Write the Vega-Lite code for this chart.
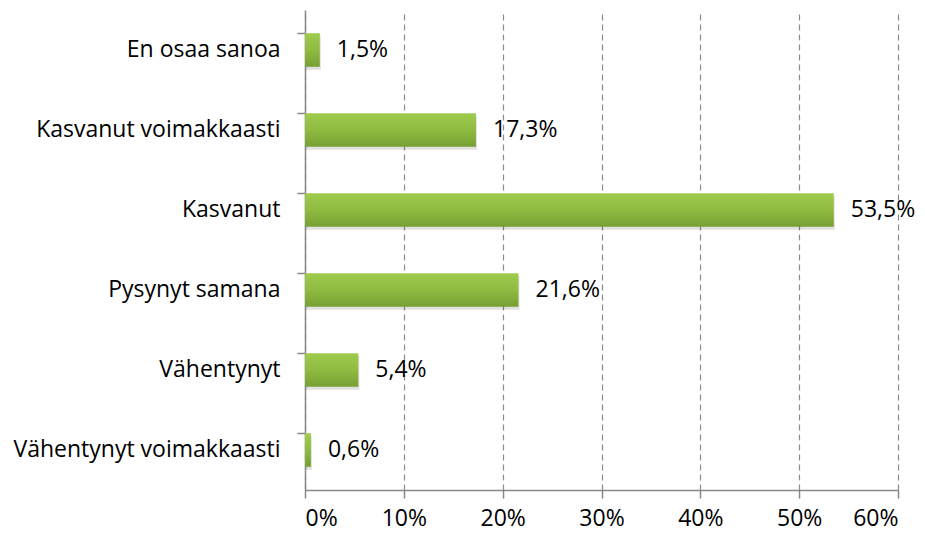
{
  "$schema": "https://vega.github.io/schema/vega-lite/v6.json",
  "width": 593,
  "height": 480,
  "autosize": {"type": "none"},
  "padding": {"left": 305, "top": 10, "right": 27, "bottom": 48},
  "background": "white",
  "config": {
    "locale": {"number": {"decimal": ",", "thousands": " ", "grouping": [3], "currency": ["", " €"]}},
    "view": {"stroke": null},
    "font": "Open Sans"
  },
  "data": {
    "values": [
      {"kategoria": "En osaa sanoa", "osuus": 0.015},
      {"kategoria": "Kasvanut voimakkaasti", "osuus": 0.173},
      {"kategoria": "Kasvanut", "osuus": 0.535},
      {"kategoria": "Pysynyt samana", "osuus": 0.216},
      {"kategoria": "Vähentynyt", "osuus": 0.054},
      {"kategoria": "Vähentynyt voimakkaasti", "osuus": 0.006}
    ]
  },
  "encoding": {
    "y": {
      "field": "kategoria",
      "type": "nominal",
      "sort": null,
      "scale": {"paddingInner": 0.58, "paddingOuter": 0.29},
      "axis": {
        "title": null,
        "bandPosition": 0,
        "domainColor": "#888888",
        "domainWidth": 1.5,
        "tickColor": "#888888",
        "tickWidth": 1.5,
        "tickSize": 8,
        "labelFontSize": 23,
        "labelColor": "#000000",
        "labelPadding": 17,
        "labelFont": "Open Sans",
        "labelLimit": 400,
        "grid": false
      }
    },
    "x": {
      "field": "osuus",
      "type": "quantitative",
      "scale": {"domain": [0, 0.6], "nice": false},
      "axis": {
        "title": null,
        "format": ".0%",
        "values": [0, 0.1, 0.2, 0.3, 0.4, 0.5, 0.6],
        "domainColor": "#888888",
        "domainWidth": 1.5,
        "tickColor": "#888888",
        "tickWidth": 1.5,
        "tickSize": 8,
        "labelFontSize": 23,
        "labelColor": "#000000",
        "labelPadding": 9,
        "labelFont": "Open Sans",
        "grid": true,
        "gridColor": "#8c8c8c",
        "gridDash": [6, 4],
        "gridWidth": 1.2
      }
    }
  },
  "layer": [
    {
      "mark": {"type": "bar", "color": "#000000", "opacity": 0.12, "yOffset": 3, "xOffset": 1}
    },
    {
      "mark": {
        "type": "bar",
        "color": {
          "gradient": "linear",
          "x1": 0, "y1": 0, "x2": 0, "y2": 1,
          "stops": [
            {"offset": 0, "color": "#9fcc4e"},
            {"offset": 0.5, "color": "#8fbb41"},
            {"offset": 1, "color": "#76a033"}
          ]
        }
      }
    },
    {
      "mark": {"type": "text", "align": "left", "baseline": "middle", "dx": 17, "fontSize": 23, "color": "#000000", "font": "Open Sans"},
      "encoding": {"text": {"field": "osuus", "type": "quantitative", "format": ".1%"}}
    }
  ]
}
